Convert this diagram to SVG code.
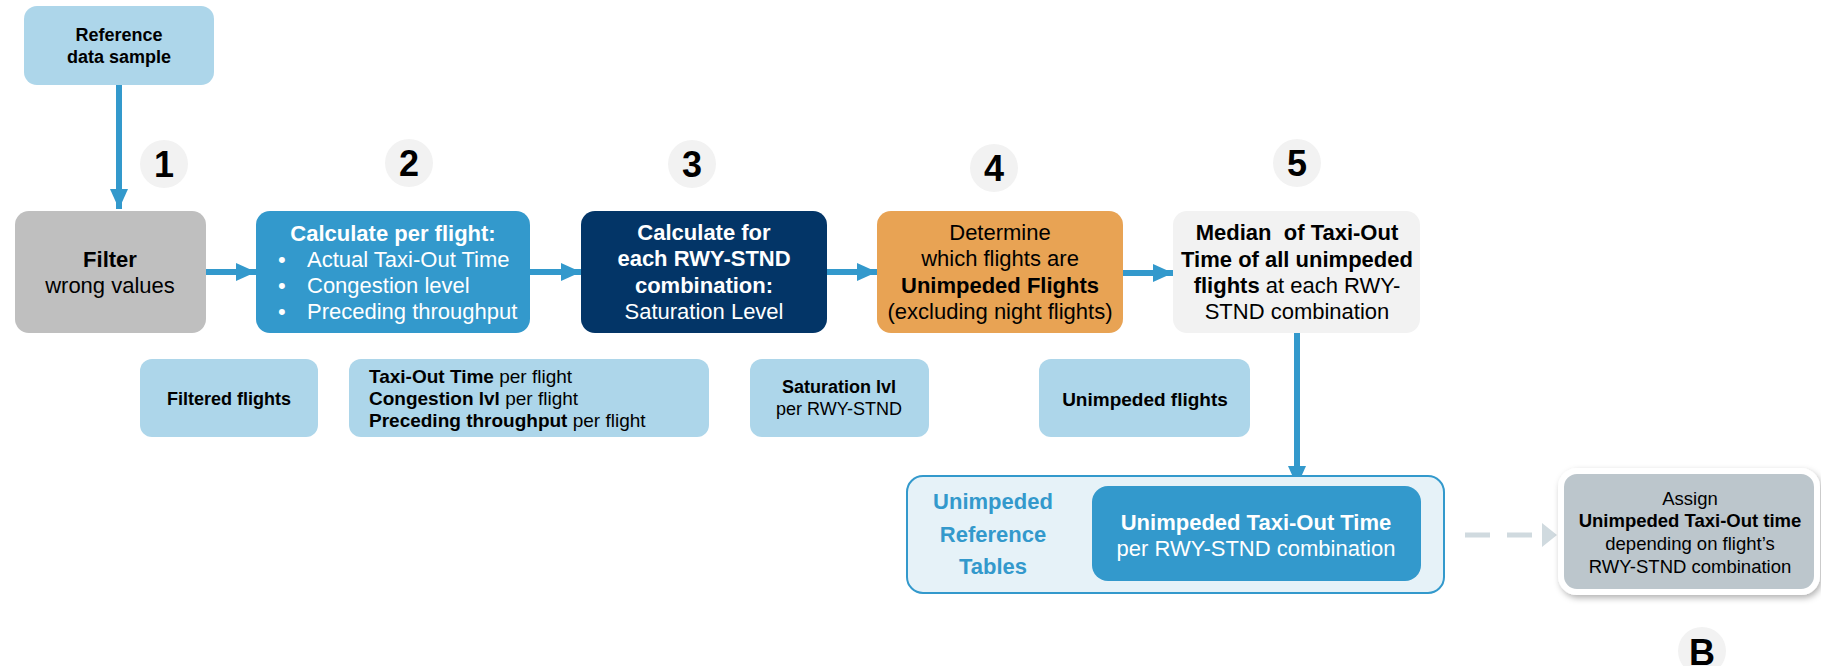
<svg xmlns="http://www.w3.org/2000/svg" width="1821" height="666" viewBox="0 0 1821 666">
<defs>
<style>
text{font-family:"Liberation Sans",Arial,sans-serif;}
.b{font-weight:bold;}
.c{text-anchor:middle;}
.w{fill:#ffffff;}
.k{fill:#000000;}
.t22{font-size:22px;}
.t18{font-size:18px;}
.t19{font-size:19px;}
.t185{font-size:18.5px;}
.num{font-size:36px;font-weight:bold;text-anchor:middle;fill:#000;}
.circ{fill:#F2F2F2;}
.lb{fill:#ADD6EA;}
.flow{stroke:#3399CC;stroke-width:6;fill:none;}
.dash{stroke:#D0DADF;stroke-width:5;fill:none;stroke-dasharray:25 17;}
</style>
<marker id="ah" markerUnits="userSpaceOnUse" markerWidth="20" markerHeight="20" viewBox="0 0 20 20" refX="20" refY="10" orient="auto">
<path d="M0,1 L20,10 L0,19 Z" fill="#3399CC"/>
</marker>
<filter id="sh" x="-10%" y="-10%" width="125%" height="130%">
<feDropShadow dx="2" dy="3" stdDeviation="3" flood-color="#000" flood-opacity="0.3"/>
</filter>
</defs>

<g id="connectors">
<path class="flow" d="M119,85 V209" marker-end="url(#ah)"/>
<path class="flow" d="M206,272 H256" marker-end="url(#ah)"/>
<path class="flow" d="M530,272 H581" marker-end="url(#ah)"/>
<path class="flow" d="M827,272 H877" marker-end="url(#ah)"/>
<path class="flow" d="M1123,273 H1173" marker-end="url(#ah)"/>
<path class="flow" d="M1297,333 V486" marker-end="url(#ah)"/>
<path class="dash" d="M1465,535 H1542"/>
<path d="M1542,523 L1557,535 L1542,547 Z" fill="#D0DADF"/>
</g>

<g id="reference-data">
<rect x="24" y="6" width="190" height="79" rx="13" class="lb"/>
<text class="b c k t18" x="119" y="41">Reference</text>
<text class="b c k t18" x="119" y="63">data sample</text>
</g>

<g id="step1-label"><circle cx="164" cy="164" r="24" class="circ"/><text class="num" x="164" y="177">1</text></g>
<g id="step2-label"><circle cx="409" cy="163" r="24" class="circ"/><text class="num" x="409" y="176">2</text></g>
<g id="step3-label"><circle cx="692" cy="164" r="24" class="circ"/><text class="num" x="692" y="177">3</text></g>
<g id="step4-label"><circle cx="994" cy="168" r="24" class="circ"/><text class="num" x="994" y="181">4</text></g>
<g id="step5-label"><circle cx="1297" cy="163" r="24" class="circ"/><text class="num" x="1297" y="176">5</text></g>

<g id="filter">
<rect x="15" y="211" width="191" height="122" rx="14" fill="#BFBFBF"/>
<text class="b c k t22" x="110" y="267">Filter</text>
<text class="c k t22" x="110" y="293">wrong values</text>
</g>

<g id="calc-per-flight">
<rect x="256" y="211" width="274" height="122" rx="14" fill="#3399CC"/>
<text class="b c w t22" x="393" y="241">Calculate per flight:</text>
<text class="w t22" x="278" y="267">•</text><text class="w t22" x="307" y="267">Actual Taxi-Out Time</text>
<text class="w t22" x="278" y="293">•</text><text class="w t22" x="307" y="293">Congestion level</text>
<text class="w t22" x="278" y="319">•</text><text class="w t22" x="307" y="319">Preceding throughput</text>
</g>

<g id="calc-rwy-stnd">
<rect x="581" y="211" width="246" height="122" rx="14" fill="#033567"/>
<text class="b c w t22" x="704" y="240">Calculate for</text>
<text class="b c w t22" x="704" y="266">each RWY-STND</text>
<text class="b c w t22" x="704" y="293">combination:</text>
<text class="c w t22" x="704" y="319">Saturation Level</text>
</g>

<g id="determine-unimpeded">
<rect x="877" y="211" width="246" height="122" rx="14" fill="#E8A354"/>
<text class="c k t22" x="1000" y="240">Determine</text>
<text class="c k t22" x="1000" y="266">which flights are</text>
<text class="b c k t22" x="1000" y="293">Unimpeded Flights</text>
<text class="c k t22" x="1000" y="319">(excluding night flights)</text>
</g>

<g id="median">
<rect x="1173" y="211" width="247" height="122" rx="14" fill="#F2F2F2"/>
<text class="b c k t22" x="1297" y="240" xml:space="preserve">Median  of Taxi-Out</text>
<text class="b c k t22" x="1297" y="267">Time of all unimpeded</text>
<text class="c k t22" x="1297" y="293"><tspan class="b">flights</tspan> at each RWY-</text>
<text class="c k t22" x="1297" y="319">STND combination</text>
</g>

<g id="filtered-flights">
<rect x="140" y="359" width="178" height="78" rx="12" class="lb"/>
<text class="b c k t18" x="229" y="405">Filtered flights</text>
</g>

<g id="per-flight-outputs">
<rect x="349" y="359" width="360" height="78" rx="12" class="lb"/>
<text class="k t19" x="369" y="383"><tspan class="b">Taxi-Out Time</tspan> per flight</text>
<text class="k t19" x="369" y="405"><tspan class="b">Congestion lvl</tspan> per flight</text>
<text class="k t19" x="369" y="427"><tspan class="b">Preceding throughput</tspan> per flight</text>
</g>

<g id="saturation-output">
<rect x="750" y="359" width="179" height="78" rx="12" class="lb"/>
<text class="b c k t18" x="839" y="393">Saturation lvl</text>
<text class="c k t18" x="839" y="415">per RWY-STND</text>
</g>

<g id="unimpeded-flights">
<rect x="1039" y="359" width="211" height="78" rx="12" class="lb"/>
<text class="b c k t19" x="1145" y="406">Unimpeded flights</text>
</g>

<g id="reference-tables">
<rect x="907" y="476" width="537" height="117" rx="16" fill="#E6F2F8" stroke="#3399CC" stroke-width="2"/>
<text class="b c t22" fill="#3399CC" x="993" y="509">Unimpeded</text>
<text class="b c t22" fill="#3399CC" x="993" y="542">Reference</text>
<text class="b c t22" fill="#3399CC" x="993" y="574">Tables</text>
</g>

<g id="unimpeded-taxi-out">
<rect x="1092" y="486" width="329" height="95" rx="16" fill="#3399CC"/>
<text class="b c w t22" x="1256" y="530">Unimpeded Taxi-Out Time</text>
<text class="c w t22" x="1256" y="556">per RWY-STND combination</text>
</g>

<g id="assign">
<rect x="1561" y="471" width="256" height="121" rx="16" fill="#BCC6CC" stroke="#ffffff" stroke-width="6" filter="url(#sh)"/>
<text class="c k t185" x="1690" y="505">Assign</text>
<text class="b c k t185" x="1690" y="527">Unimpeded Taxi-Out time</text>
<text class="c k t185" x="1690" y="550">depending on flight’s</text>
<text class="c k t185" x="1690" y="573">RWY-STND combination</text>
</g>

<g id="label-b"><circle cx="1702" cy="651" r="24" class="circ"/><text class="num" x="1702" y="665">B</text></g>
</svg>
